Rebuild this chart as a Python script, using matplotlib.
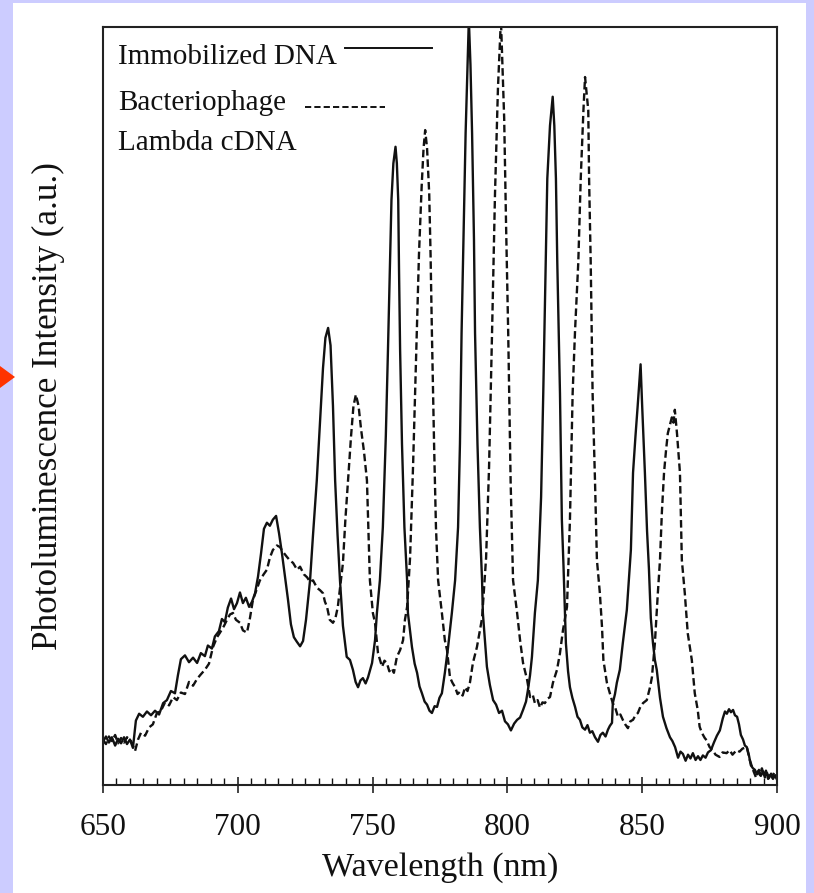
import matplotlib
matplotlib.use("Agg")
import matplotlib.pyplot as plt
from matplotlib.patches import Rectangle, Polygon
from matplotlib.ticker import MultipleLocator

plt.rcParams['font.family'] = ['Liberation Serif', 'DejaVu Serif']

# Photoluminescence spectra (wavelength in nm, intensity in a.u.)
wl_immobilized = [
    650.0, 651.1, 652.2, 653.3, 654.5, 655.6, 656.7, 657.8, 658.9, 660.0,
    661.1, 662.2, 663.4, 664.8, 666.3, 667.8, 669.3, 670.8, 672.3, 673.7,
    675.2, 676.7, 677.8, 678.9, 680.4, 681.9, 683.4, 684.9, 686.3, 687.8,
    688.9, 690.4, 691.5, 693.0, 694.1, 695.2, 696.3, 697.5, 698.6, 699.7,
    700.8, 701.9, 703.0, 704.2, 705.3, 706.4, 707.5, 708.6, 709.7, 710.8,
    711.9, 713.0, 714.2, 715.3, 716.4, 717.5, 718.6, 719.7, 720.8, 721.9,
    723.1, 724.2, 725.3, 726.8, 727.9, 729.3, 730.5, 731.6, 732.5, 733.5,
    734.4, 735.3, 736.1, 737.0, 737.9, 739.0, 740.4, 741.6, 742.7, 743.7,
    744.6, 745.5, 746.4, 747.4, 748.3, 749.8, 750.9, 751.6, 752.7, 753.8,
    754.9, 755.7, 756.4, 757.0, 757.7, 758.5, 759.0, 759.5, 759.8, 760.2,
    760.9, 761.8, 762.8, 763.1, 764.6, 765.6, 766.5, 767.4, 768.3, 769.3,
    770.2, 771.1, 772.0, 773.0, 773.9, 774.8, 775.7, 776.8, 778.0, 779.4,
    780.6, 781.7, 782.4, 783.0, 783.7, 784.5, 785.2, 785.7, 786.3, 786.9,
    787.6, 788.0, 788.9, 789.8, 790.6, 790.9, 791.7, 792.4, 793.5, 794.7,
    795.8, 796.9, 798.0, 799.1, 800.2, 801.3, 802.5, 803.6, 804.7, 805.8,
    806.9, 807.6, 808.4, 809.1, 810.2, 811.3, 812.5, 813.3, 814.2, 814.8,
    815.8, 816.8, 817.4, 818.0, 818.5, 819.5, 820.2, 820.8, 821.7, 822.5,
    823.2, 824.1, 825.1, 826.0, 826.9, 827.8, 828.8, 829.7, 830.6, 831.5,
    832.5, 833.6, 834.5, 835.4, 836.4, 837.3, 838.0, 838.8, 839.1, 839.9,
    840.6, 841.7, 842.8, 844.3, 845.1, 845.8, 846.6, 847.5, 848.3, 849.4,
    850.0, 851.0, 851.8, 852.5, 853.2, 854.0, 854.7, 855.4, 856.6, 857.7,
    859.0, 860.3, 861.2, 862.2, 863.3, 864.2, 865.1, 866.1, 867.0, 867.9,
    868.8, 869.8, 870.7, 871.6, 872.5, 873.5, 874.4, 875.5, 876.6, 877.7,
    878.8, 879.9, 880.7, 881.4, 882.2, 882.9, 883.7, 884.4, 885.2, 885.9,
    886.6, 887.4, 888.1, 888.8, 889.6, 890.3, 891.1, 891.8, 892.6, 893.3,
    894.0, 894.8, 895.5, 896.3, 897.0, 897.8, 898.5, 899.3, 900.0,
]
pl_immobilized = [
    5.7, 6.4, 5.6, 6.3, 5.2, 6.1, 5.5, 6.3, 5.4, 6.0,
    4.9, 8.5, 9.4, 9.0, 9.7, 9.2, 9.8, 9.3, 10.8, 11.2,
    12.4, 12.1, 14.5, 16.6, 17.1, 16.2, 16.8, 16.1, 17.4, 17.0,
    18.4, 18.0, 19.6, 20.3, 21.9, 21.5, 23.4, 24.6, 23.2, 24.0,
    25.4, 24.0, 24.7, 23.5, 24.2, 25.3, 27.5, 30.5, 33.8, 34.6,
    34.2, 35.0, 35.5, 33.2, 30.5, 27.5, 24.5, 21.2, 19.5, 18.9,
    18.3, 19.0, 21.8, 27.0, 33.0, 40.2, 48.0, 55.0, 59.0, 60.3,
    58.0, 50.0, 40.2, 33.0, 27.0, 21.0, 16.9, 16.5, 15.2, 13.6,
    12.9, 13.8, 14.1, 13.4, 14.2, 16.1, 19.1, 22.7, 27.0, 34.0,
    46.0, 57.4, 68.0, 77.2, 82.0, 84.2, 82.0, 77.2, 68.0, 57.4,
    45.0, 34.0, 27.0, 22.7, 18.2, 16.0, 14.8, 13.0, 12.1, 11.0,
    10.6, 9.8, 9.5, 10.4, 10.3, 11.5, 12.1, 14.8, 18.2, 22.7,
    27.0, 34.0, 45.0, 59.6, 72.0, 86.0, 95.0, 101.0, 95.0, 86.0,
    72.0, 59.6, 45.0, 34.0, 27.0, 22.7, 19.0, 15.6, 13.2, 11.2,
    10.6, 9.5, 9.8, 8.4, 8.0, 7.2, 8.1, 8.6, 8.9, 9.9,
    11.0, 12.5, 14.5, 16.9, 22.7, 27.0, 38.0, 51.7, 69.0, 80.0,
    87.0, 90.8, 87.0, 80.0, 69.0, 51.7, 35.0, 29.0, 18.7, 15.0,
    12.9, 11.5, 10.3, 9.0, 8.6, 7.6, 7.3, 7.9, 6.9, 7.1,
    6.3, 5.7, 6.6, 6.9, 6.4, 7.3, 7.8, 8.2, 10.8, 12.0,
    13.5, 15.2, 18.7, 23.1, 27.4, 31.0, 41.2, 46.0, 49.9, 55.5,
    49.9, 41.2, 33.5, 28.5, 22.0, 18.7, 16.5, 15.2, 11.5, 9.0,
    7.5, 6.3, 5.8, 5.0, 3.6, 4.4, 4.1, 3.2, 4.0, 3.5,
    4.2, 3.3, 3.8, 3.3, 3.9, 3.6, 4.3, 4.6, 5.6, 6.5,
    7.2, 8.8, 9.7, 9.4, 10.0, 9.6, 9.9, 9.2, 9.0, 8.0,
    6.6, 6.0, 5.2, 5.0, 3.9, 2.6, 2.2, 2.0, 1.4, 2.0,
    1.2, 1.8, 1.0, 1.6, 0.9, 1.5, 0.8, 1.3, 0.9,
]

wl_lambda = [
    650.0, 651.1, 652.2, 653.3, 654.5, 655.6, 656.7, 657.8, 658.9, 660.4,
    661.9, 663.0, 664.1, 665.6, 667.1, 668.5, 670.0, 671.5, 673.0, 674.5,
    676.0, 677.4, 678.9, 680.4, 681.9, 683.4, 684.9, 686.3, 687.8, 689.3,
    690.8, 692.3, 693.4, 694.9, 696.0, 697.1, 698.2, 699.3, 700.8, 701.9,
    703.4, 704.5, 705.6, 706.7, 708.2, 709.6, 710.8, 711.9, 713.0, 714.5,
    715.6, 717.1, 718.2, 719.4, 720.5, 722.0, 723.1, 724.5, 725.7, 726.8,
    727.9, 729.4, 730.5, 731.6, 732.3, 733.1, 734.1, 735.3, 736.2, 737.1,
    738.1, 739.0, 739.9, 740.9, 742.0, 742.9, 743.8, 744.8, 745.7, 746.8,
    747.9, 748.5, 749.0, 750.1, 750.9, 752.0, 753.5, 754.4, 755.3, 756.2,
    757.1, 757.9, 759.0, 760.2, 761.3, 762.0, 762.8, 763.9, 765.0, 766.4,
    767.2, 768.2, 768.9, 769.5, 770.2, 771.0, 771.5, 772.0, 772.8, 773.5,
    774.3, 775.7, 776.8, 777.6, 778.7, 779.6, 780.6, 781.5, 782.4, 783.4,
    784.3, 785.2, 786.1, 787.2, 788.7, 789.8, 790.6, 792.1, 793.2, 794.3,
    795.4, 796.5, 797.6, 798.8, 799.5, 800.3, 801.2, 802.1, 803.6, 804.7,
    805.8, 807.3, 808.4, 809.4, 810.2, 811.2, 812.1, 813.0, 813.9, 814.9,
    815.8, 816.9, 818.4, 819.5, 820.6, 822.1, 823.2, 824.2, 825.1, 826.3,
    827.2, 828.2, 828.8, 830.0, 830.3, 830.9, 831.6, 832.5, 833.2, 834.3,
    835.1, 835.6, 836.9, 838.0, 839.1, 840.0, 841.0, 841.9, 842.8, 843.7,
    844.7, 845.6, 846.6, 847.5, 848.4, 849.3, 850.3, 851.7, 852.9, 853.6,
    854.7, 855.8, 856.6, 857.3, 858.1, 858.8, 859.5, 860.3, 861.0, 861.6,
    862.1, 862.9, 864.0, 864.7, 865.8, 866.9, 868.4, 869.5, 870.6, 871.3,
    872.1, 873.2, 873.9, 875.0, 876.1, 877.2, 878.7, 879.8, 881.3, 882.4,
    883.5, 885.0, 886.1, 887.2, 888.8, 889.9, 891.1, 892.2, 892.9, 893.7,
    894.4, 895.2, 895.9, 896.7, 897.4, 898.1, 898.9, 900.0,
]
pl_lambda = [
    5.9, 5.4, 6.4, 5.8, 6.6, 5.5, 6.2, 5.6, 6.3, 5.8,
    4.5, 6.0, 6.9, 6.5, 7.6, 8.0, 9.5, 9.8, 10.9, 10.5,
    11.6, 11.2, 12.2, 12.0, 13.6, 13.1, 14.0, 14.6, 15.2, 16.0,
    18.2, 19.5, 20.1, 21.0, 21.8, 22.5, 22.7, 21.8, 21.4, 20.4,
    20.1, 22.0, 24.4, 25.5, 27.0, 27.8, 28.4, 30.0, 31.0, 31.6,
    31.4, 30.6, 30.1, 29.6, 29.3, 28.4, 28.8, 27.8, 27.4, 26.8,
    27.0, 26.0, 25.7, 25.3, 24.2, 23.5, 21.8, 21.4, 22.0, 23.5,
    26.5, 29.3, 35.0, 40.2, 46.0, 50.0, 51.5, 50.0, 47.0, 44.0,
    40.2, 33.0, 27.0, 22.7, 21.4, 17.4, 15.6, 16.4, 16.1, 15.0,
    15.4, 14.8, 16.9, 17.8, 19.1, 21.8, 23.5, 30.0, 42.0, 59.6,
    70.0, 79.0, 84.0, 86.4, 84.0, 78.0, 70.0, 59.6, 45.0, 34.0,
    27.0, 22.7, 19.1, 17.8, 14.2, 13.5, 12.9, 12.0, 12.3, 11.8,
    12.9, 12.4, 13.5, 16.1, 18.2, 20.4, 22.0, 30.0, 42.0, 59.6,
    78.0, 92.0, 101.0, 88.0, 74.0, 59.6, 40.0, 27.0, 22.7, 19.1,
    16.1, 13.9, 11.6, 11.9, 10.8, 11.2, 10.2, 10.9, 10.8, 11.4,
    11.6, 13.5, 15.2, 17.4, 20.4, 23.5, 35.0, 51.7, 60.0, 69.0,
    80.0, 89.0, 93.4, 89.0, 80.0, 69.0, 51.7, 40.0, 29.7, 25.3,
    20.8, 16.5, 13.5, 12.1, 10.8, 10.2, 9.0, 9.3, 8.6, 8.0,
    7.5, 8.4, 8.6, 9.2, 9.5, 10.3, 10.8, 11.2, 12.9, 14.2,
    18.7, 25.3, 29.7, 36.0, 41.2, 44.0, 46.4, 47.5, 48.5, 47.8,
    49.5, 46.4, 41.2, 29.7, 25.3, 20.0, 16.5, 12.1, 9.9, 7.7,
    6.9, 6.2, 5.9, 5.0, 4.6, 4.0, 3.7, 4.3, 4.2, 4.6,
    4.0, 4.6, 4.4, 4.8, 5.0, 3.3, 2.0, 1.0, 1.8, 1.3,
    2.2, 1.2, 1.9, 0.8, 1.6, 1.0, 1.6, 0.7,
]

x_ticks = [650, 700, 750, 800, 850, 900]

W, H = 814, 893
fig = plt.figure(figsize=(W / 100, H / 100), dpi=100)
fig.patch.set_facecolor('#ccccff')

# white page behind the plot
page = Rectangle((13 / W, 0), (806 - 13) / W, (H - 3) / H,
                 transform=fig.transFigure, facecolor='white',
                 edgecolor='none', zorder=-10)
fig.add_artist(page)
# red pointer on the left margin
pointer = Polygon([(0, (H - 366) / H), (15 / W, (H - 377) / H), (0, (H - 388) / H)],
                  closed=True, transform=fig.transFigure,
                  facecolor='#ff3300', edgecolor='none', zorder=-5)
fig.add_artist(pointer)

ax = fig.add_axes([103 / W, (H - 785) / H, 674 / W, 758 / H])
ax.set_zorder(1)
ax.set_facecolor('white')

ax.plot(wl_immobilized, pl_immobilized, color='#111111', lw=1.7)
ax.plot(wl_lambda, pl_lambda, color='#111111', lw=1.7, dashes=(3.2, 1.6))

ax.set_xlim(650, 900)
ax.set_ylim(0, 100)
ax.set_xticks(x_ticks)
ax.xaxis.set_minor_locator(MultipleLocator(5))
ax.set_yticks([])
ax.tick_params(axis='x', which='major', direction='inout', length=12,
               width=1.1, labelsize=22.5, pad=14, colors='#111111')
ax.tick_params(axis='x', which='minor', direction='in', length=5, width=1.0,
               colors='#111111')
for s in ax.spines.values():
    s.set_linewidth(1.5)
    s.set_color('#222222')

ax.set_xlabel('Wavelength (nm)', fontsize=24.5, color='#111111')
ax.set_ylabel('Photoluminescence Intensity (a.u.)', fontsize=25.3, color='#111111')
ax.xaxis.set_label_coords(0.5, -0.088)
ax.yaxis.set_label_coords(-0.056, 0.5)

# legend written as plain text with sample lines
ax.text(0.022, 0.960, 'Immobilized DNA', transform=ax.transAxes, fontsize=21,
        va='center', ha='left', color='#111111')
ax.plot([0.359, 0.488], [0.972, 0.972], transform=ax.transAxes,
        color='#111111', lw=1.4)
ax.text(0.022, 0.900, 'Bacteriophage', transform=ax.transAxes, fontsize=21,
        va='center', ha='left', color='#111111')
ax.plot([0.300, 0.418], [0.894, 0.894], transform=ax.transAxes,
        color='#111111', lw=1.4, dashes=(3.2, 1.6))
ax.text(0.022, 0.847, 'Lambda cDNA', transform=ax.transAxes, fontsize=21,
        va='center', ha='left', color='#111111')

fig.savefig('out.png', dpi=100, facecolor=fig.get_facecolor())
